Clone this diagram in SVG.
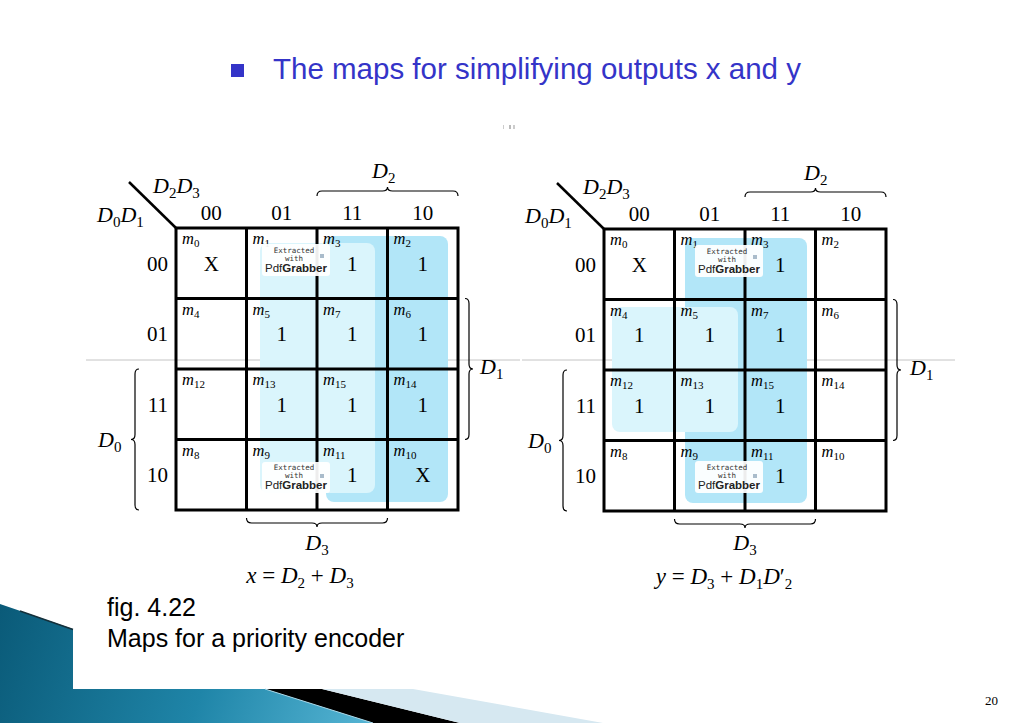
<svg xmlns="http://www.w3.org/2000/svg" width="1024" height="723" viewBox="0 0 1024 723">
<style>
.serif{font-family:"Liberation Serif","Times New Roman",serif;fill:#000}
.it{font-style:italic}
.up{font-style:normal}
.lbl{font-size:22px}
.eq{font-size:23px}
.code{font-size:21px}
.val{font-size:21px;text-anchor:middle}
.mt{font-size:16.5px;font-style:italic}
.ms{font-size:11px;font-style:normal}
.sub{font-size:15px;font-style:normal}
.grid{fill:none;stroke:#000;stroke-width:3}
.brace{fill:none;stroke:#000;stroke-width:1.2}
.dark{fill:#b2e6f8}
.light{fill:#daf5fc}
.wmbox{fill:#fff;fill-opacity:0.93}
.wm1{font-family:"DejaVu Sans Mono","Liberation Mono",monospace;font-size:7.5px;fill:#333;text-anchor:middle}
.wm2{font-family:"Liberation Sans",Arial,sans-serif;font-size:11.5px;fill:#222;text-anchor:middle}
.sans{font-family:"Liberation Sans",Arial,sans-serif}
</style>
<defs>
<linearGradient id="teal" x1="0" y1="600" x2="380" y2="723" gradientUnits="userSpaceOnUse">
<stop offset="0" stop-color="#0a5a78"/>
<stop offset="0.55" stop-color="#1f85a8"/>
<stop offset="1" stop-color="#58b7d6"/>
</linearGradient>
</defs>
<rect x="0" y="0" width="1024" height="723" fill="#fff"/>

<g id="decoration">
<polygon points="0,604 73,629 73,689 265,689 373,723 0,723" fill="url(#teal)"/>
<line x1="20" y1="611" x2="73" y2="629.5" stroke="#15303a" stroke-width="1.5"/>
<polygon points="265,689 322,689 460,723 373,723" fill="#000"/>
<line x1="265" y1="689" x2="373" y2="723" stroke="#a6d8ea" stroke-width="1"/>
<polygon points="322,689 413,689 603,723 460,723" fill="#d6e8f1"/>
<line x1="86" y1="360" x2="520" y2="360" stroke="#c4c4c4" stroke-width="1"/>
<line x1="522" y1="360" x2="955" y2="360" stroke="#c4c4c4" stroke-width="1"/>
<rect x="503" y="125" width="1" height="4" fill="#ccc"/>
<rect x="509" y="125" width="2" height="4" fill="#bbb"/>
<rect x="513" y="125" width="2" height="4" fill="#ccc"/>
</g>

<g id="title">
<rect x="231" y="64" width="13" height="13" fill="#3434c8"/>
<text x="273" y="79" class="sans" font-size="29.5" fill="#3434c8">The maps for simplifying outputs x and y</text>
</g>

<g id="map-x" transform="translate(176,228)">
<rect class="dark" x="150" y="8" width="122" height="266" rx="8"/>
<rect class="light" x="84" y="15" width="115" height="250" rx="8"/>
<rect class="grid" x="0" y="0" width="282" height="282"/>
<path class="grid" d="M70.5 0V282M141 0V282M211.5 0V282M0 70.5H282M0 141H282M0 211.5H282"/>
<line x1="-47" y1="-46" x2="0" y2="0" stroke="#000" stroke-width="2.5"/>
<g class="serif">
<text class="lbl it" x="-23" y="-35">D<tspan class="sub" dy="5">2</tspan><tspan dy="-5">D</tspan><tspan class="sub" dy="5">3</tspan></text>
<text class="lbl it" x="-79" y="-6">D<tspan class="sub" dy="5">0</tspan><tspan dy="-5">D</tspan><tspan class="sub" dy="5">1</tspan></text>
<text class="code" x="35.25" y="-8" text-anchor="middle">00</text>
<text class="code" x="105.75" y="-8" text-anchor="middle">01</text>
<text class="code" x="176.25" y="-8" text-anchor="middle">11</text>
<text class="code" x="246.75" y="-8" text-anchor="middle">10</text>
<text class="code" x="-8" y="42.75" text-anchor="end">00</text>
<text class="code" x="-8" y="113.25" text-anchor="end">01</text>
<text class="code" x="-8" y="183.75" text-anchor="end">11</text>
<text class="code" x="-8" y="254.25" text-anchor="end">10</text>
<text class="mt" x="6" y="16">m<tspan class="ms" dy="3">0</tspan></text>
<text class="mt" x="76.5" y="16">m<tspan class="ms" dy="3">1</tspan></text>
<text class="mt" x="147" y="16">m<tspan class="ms" dy="3">3</tspan></text>
<text class="mt" x="217.5" y="16">m<tspan class="ms" dy="3">2</tspan></text>
<text class="mt" x="6" y="86.5">m<tspan class="ms" dy="3">4</tspan></text>
<text class="mt" x="76.5" y="86.5">m<tspan class="ms" dy="3">5</tspan></text>
<text class="mt" x="147" y="86.5">m<tspan class="ms" dy="3">7</tspan></text>
<text class="mt" x="217.5" y="86.5">m<tspan class="ms" dy="3">6</tspan></text>
<text class="mt" x="6" y="157">m<tspan class="ms" dy="3">12</tspan></text>
<text class="mt" x="76.5" y="157">m<tspan class="ms" dy="3">13</tspan></text>
<text class="mt" x="147" y="157">m<tspan class="ms" dy="3">15</tspan></text>
<text class="mt" x="217.5" y="157">m<tspan class="ms" dy="3">14</tspan></text>
<text class="mt" x="6" y="227.5">m<tspan class="ms" dy="3">8</tspan></text>
<text class="mt" x="76.5" y="227.5">m<tspan class="ms" dy="3">9</tspan></text>
<text class="mt" x="147" y="227.5">m<tspan class="ms" dy="3">11</tspan></text>
<text class="mt" x="217.5" y="227.5">m<tspan class="ms" dy="3">10</tspan></text>
<text class="val" x="35.25" y="42.75" font-size="22">X</text>
<text class="val" x="176.25" y="42.75">1</text>
<text class="val" x="246.75" y="42.75">1</text>
<text class="val" x="105.75" y="113.25">1</text>
<text class="val" x="176.25" y="113.25">1</text>
<text class="val" x="246.75" y="113.25">1</text>
<text class="val" x="105.75" y="183.75">1</text>
<text class="val" x="176.25" y="183.75">1</text>
<text class="val" x="246.75" y="183.75">1</text>
<text class="val" x="176.25" y="254.25">1</text>
<text class="val" x="246.75" y="254.25" font-size="22">X</text>
<text class="lbl it" x="196" y="-50">D<tspan class="sub" dy="5">2</tspan></text>
<text class="lbl it" x="304" y="146">D<tspan class="sub" dy="5">1</tspan></text>
<text class="lbl it" x="-78" y="219">D<tspan class="sub" dy="5">0</tspan></text>
<text class="lbl it" x="141" y="322" text-anchor="middle">D<tspan class="sub" dy="5">3</tspan></text>
<text class="eq it" x="124" y="355" text-anchor="middle">x <tspan class="up">=</tspan> D<tspan class="sub" dy="5">2</tspan><tspan class="up" dy="-5"> + </tspan>D<tspan class="sub" dy="5">3</tspan></text>
</g>
<g id="wm-x1">
<rect class="wmbox" x="86" y="16" width="68" height="32" rx="3"/>
<text class="wm1" x="118" y="25">Extracted</text>
<text class="wm1" x="118" y="33">with</text>
<text class="wm2" x="120" y="44">Pdf<tspan font-weight="bold">Grabber</tspan></text>
<rect x="144" y="26" width="4" height="4" fill="#a9bccb"/>
</g>
<g id="wm-x2">
<rect class="wmbox" x="86" y="234" width="68" height="31" rx="3"/>
<text class="wm1" x="118" y="242">Extracted</text>
<text class="wm1" x="118" y="250">with</text>
<text class="wm2" x="120" y="261">Pdf<tspan font-weight="bold">Grabber</tspan></text>
<rect x="144" y="246" width="4" height="4" fill="#a9bccb"/>
</g>
</g>

<g id="map-y" transform="translate(604,229)">
<rect class="dark" x="81" y="9" width="122" height="265" rx="8"/>
<rect class="light" x="8" y="78" width="126" height="125" rx="8"/>
<rect class="grid" x="0" y="0" width="282" height="282"/>
<path class="grid" d="M70.5 0V282M141 0V282M211.5 0V282M0 70.5H282M0 141H282M0 211.5H282"/>
<line x1="-47" y1="-46" x2="0" y2="0" stroke="#000" stroke-width="2.5"/>
<g class="serif">
<text class="lbl it" x="-21" y="-35">D<tspan class="sub" dy="5">2</tspan><tspan dy="-5">D</tspan><tspan class="sub" dy="5">3</tspan></text>
<text class="lbl it" x="-79" y="-6">D<tspan class="sub" dy="5">0</tspan><tspan dy="-5">D</tspan><tspan class="sub" dy="5">1</tspan></text>
<text class="code" x="35.25" y="-8" text-anchor="middle">00</text>
<text class="code" x="105.75" y="-8" text-anchor="middle">01</text>
<text class="code" x="176.25" y="-8" text-anchor="middle">11</text>
<text class="code" x="246.75" y="-8" text-anchor="middle">10</text>
<text class="code" x="-8" y="42.75" text-anchor="end">00</text>
<text class="code" x="-8" y="113.25" text-anchor="end">01</text>
<text class="code" x="-8" y="183.75" text-anchor="end">11</text>
<text class="code" x="-8" y="254.25" text-anchor="end">10</text>
<text class="mt" x="6" y="16">m<tspan class="ms" dy="3">0</tspan></text>
<text class="mt" x="76.5" y="16">m<tspan class="ms" dy="3">1</tspan></text>
<text class="mt" x="147" y="16">m<tspan class="ms" dy="3">3</tspan></text>
<text class="mt" x="217.5" y="16">m<tspan class="ms" dy="3">2</tspan></text>
<text class="mt" x="6" y="86.5">m<tspan class="ms" dy="3">4</tspan></text>
<text class="mt" x="76.5" y="86.5">m<tspan class="ms" dy="3">5</tspan></text>
<text class="mt" x="147" y="86.5">m<tspan class="ms" dy="3">7</tspan></text>
<text class="mt" x="217.5" y="86.5">m<tspan class="ms" dy="3">6</tspan></text>
<text class="mt" x="6" y="157">m<tspan class="ms" dy="3">12</tspan></text>
<text class="mt" x="76.5" y="157">m<tspan class="ms" dy="3">13</tspan></text>
<text class="mt" x="147" y="157">m<tspan class="ms" dy="3">15</tspan></text>
<text class="mt" x="217.5" y="157">m<tspan class="ms" dy="3">14</tspan></text>
<text class="mt" x="6" y="227.5">m<tspan class="ms" dy="3">8</tspan></text>
<text class="mt" x="76.5" y="227.5">m<tspan class="ms" dy="3">9</tspan></text>
<text class="mt" x="147" y="227.5">m<tspan class="ms" dy="3">11</tspan></text>
<text class="mt" x="217.5" y="227.5">m<tspan class="ms" dy="3">10</tspan></text>
<text class="val" x="35.25" y="42.75" font-size="22">X</text>
<text class="val" x="176.25" y="42.75">1</text>
<text class="val" x="35.25" y="113.25">1</text>
<text class="val" x="105.75" y="113.25">1</text>
<text class="val" x="176.25" y="113.25">1</text>
<text class="val" x="35.25" y="183.75">1</text>
<text class="val" x="105.75" y="183.75">1</text>
<text class="val" x="176.25" y="183.75">1</text>
<text class="val" x="176.25" y="254.25">1</text>
<text class="lbl it" x="200" y="-49">D<tspan class="sub" dy="5">2</tspan></text>
<text class="lbl it" x="306" y="146">D<tspan class="sub" dy="5">1</tspan></text>
<text class="lbl it" x="-76" y="219">D<tspan class="sub" dy="5">0</tspan></text>
<text class="lbl it" x="141" y="321" text-anchor="middle">D<tspan class="sub" dy="5">3</tspan></text>
<text class="eq it" x="120" y="355" text-anchor="middle">y <tspan class="up">=</tspan> D<tspan class="sub" dy="5">3</tspan><tspan class="up" dy="-5"> + </tspan>D<tspan class="sub" dy="5">1</tspan><tspan dy="-5">D</tspan><tspan class="up">′</tspan><tspan class="sub" dy="5">2</tspan></text>
</g>
<g id="wm-y1">
<rect class="wmbox" x="91" y="16" width="68" height="32" rx="3"/>
<text class="wm1" x="123" y="25">Extracted</text>
<text class="wm1" x="123" y="33">with</text>
<text class="wm2" x="125" y="44">Pdf<tspan font-weight="bold">Grabber</tspan></text>
<rect x="149" y="26" width="4" height="4" fill="#a9bccb"/>
</g>
<g id="wm-y2">
<rect class="wmbox" x="91" y="232" width="68" height="32" rx="3"/>
<text class="wm1" x="123" y="241">Extracted</text>
<text class="wm1" x="123" y="249">with</text>
<text class="wm2" x="125" y="260">Pdf<tspan font-weight="bold">Grabber</tspan></text>
<rect x="149" y="245" width="4" height="4" fill="#a9bccb"/>
</g>
</g>

<g id="braces" class="brace">
<path d="M317 196 Q317 191 322 191 H382.5 Q387.5 191 387.5 187 Q387.5 191 392.5 191 H453 Q458 191 458 196"/>
<path d="M465 298.5 Q469 298.5 469 303.5 V364 Q469 369 473 369 Q469 369 469 374 V434.5 Q469 439.5 465 439.5"/>
<path d="M139 369 Q135 369 135 374 V434.5 Q135 439.5 131 439.5 Q135 439.5 135 444.5 V505 Q135 510 139 510"/>
<path d="M246.5 518 Q246.5 523 251.5 523 H312 Q317 523 317 527 Q317 523 322 523 H382.5 Q387.5 523 387.5 518"/>
<path d="M745 197 Q745 192 750 192 H810.5 Q815.5 192 815.5 188 Q815.5 192 820.5 192 H881 Q886 192 886 197"/>
<path d="M893 299.5 Q897 299.5 897 304.5 V365 Q897 370 901 370 Q897 370 897 375 V435.5 Q897 440.5 893 440.5"/>
<path d="M567 370 Q563 370 563 375 V435.5 Q563 440.5 559 440.5 Q563 440.5 563 445.5 V506 Q563 511 567 511"/>
<path d="M674.5 519 Q674.5 524 679.5 524 H740 Q745 524 745 528 Q745 524 750 524 H810.5 Q815.5 524 815.5 519"/>
</g>

<g id="caption" class="sans" font-size="25" fill="#000">
<text x="107" y="616">fig. 4.22</text>
<text x="107" y="647">Maps for a priority encoder</text>
</g>
<text x="985" y="705" class="serif" font-size="13">20</text>
</svg>
